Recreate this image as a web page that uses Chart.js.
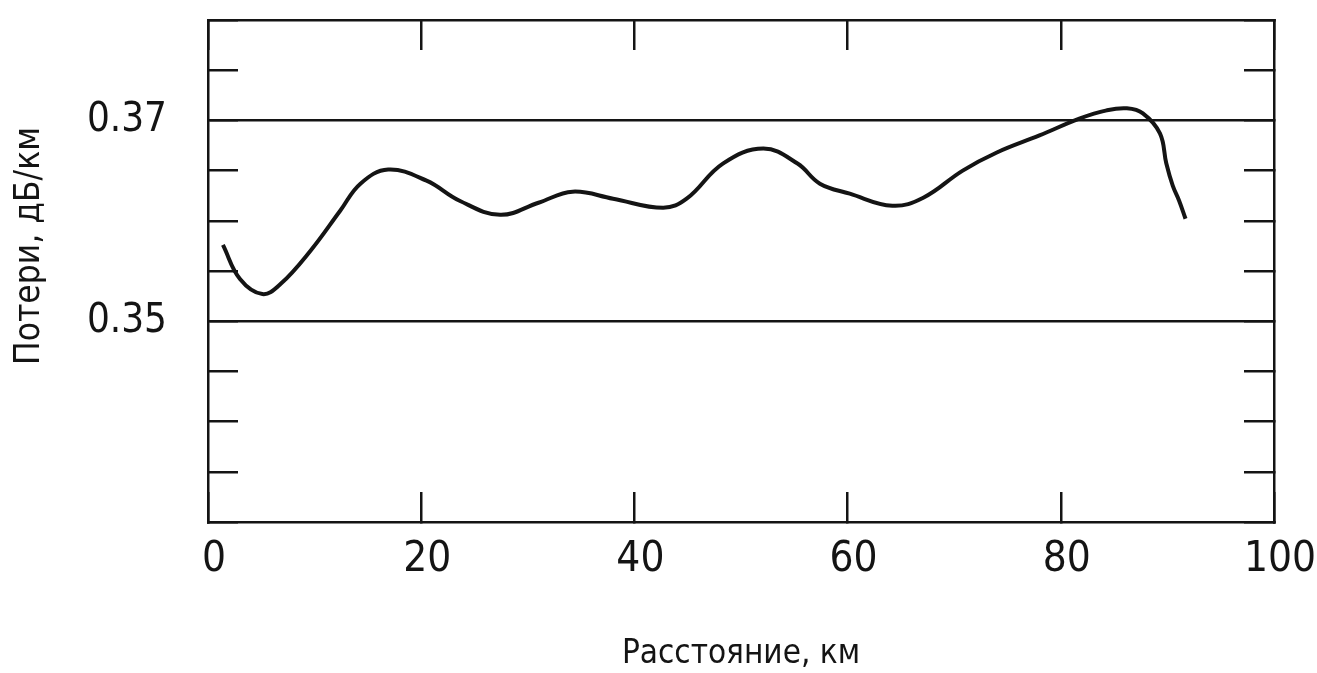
<!DOCTYPE html>
<html>
  <head>
    <title>Потери по длине линии</title>
    <script src="https://cdn.jsdelivr.net/npm/chart.js"></script>
    <style>
      body {
        margin: 0;
        background: #fff;
      }
      #chart {
        display: block;
      }
    </style>
  </head>
  <body>
    <canvas id="chart" width="1317" height="673"></canvas>

    <script>
      // values
      const distanceKm = [
        1.4, 3.0, 5.1, 6.8, 9.6, 12.4, 14.3, 16.9, 20.5, 23.6, 27.4, 31,
        34.2, 38, 42.7, 44.9, 48.3, 52.1, 55.3, 57.4, 60.2, 64.2, 67.1,
        70.8, 74, 78, 81.8, 84.3, 86.2, 87.7, 89.3, 89.9, 90.5, 91.1, 91.7,
      ];
      const lossDbKm = [
        0.3576, 0.3542, 0.3527, 0.3537, 0.357, 0.361, 0.3637, 0.3651, 0.364,
        0.362, 0.3606, 0.3618, 0.3629, 0.3622, 0.3613, 0.3622, 0.3657,
        0.3672, 0.3657, 0.3637, 0.3627, 0.3615, 0.3623, 0.365, 0.3668, 0.3685,
        0.3702, 0.371, 0.3712, 0.3707, 0.3687, 0.3657, 0.3635, 0.362, 0.3602,
      ];
      const yLabelled = [0.35, 0.37];

      const FONT = "'Liberation Sans Narrow', 'Arial Narrow', 'DejaVu Sans Condensed', 'Liberation Sans', sans-serif";
      const INK = "#141414";

      const isLabelled = (v) =>
        yLabelled.some((l) => Math.round(l * 1000) === Math.round(v * 1000));

      function fixWidth(w) {
        return (scale) => {
          scale.width = w;
          scale.paddingTop = 0;
          scale.paddingBottom = 0;
        };
      }
      function fixHeight(h) {
        return (scale) => {
          scale.height = h;
          scale.paddingLeft = 0;
          scale.paddingRight = 0;
        };
      }

      const ctx = document.getElementById("chart").getContext("2d");
      new Chart(ctx, {
        type: "scatter",
        data: {
          datasets: [
            {
              data: distanceKm.map((x, i) => ({ x: x, y: lossDbKm[i] })),
              showLine: true,
              borderColor: INK,
              borderWidth: 4,
              pointRadius: 0,
              tension: 0.4,
            },
          ],
        },
        options: {
          responsive: false,
          animation: false,
          layout: { padding: 0 },
          plugins: {
            legend: { display: false },
            tooltip: { enabled: false },
          },
          scales: {
            x: {
              type: "linear",
              position: "bottom",
              min: 0,
              max: 100,
              afterFit: fixHeight(151),
              border: { display: true, color: INK, width: 2.5 },
              grid: {
                color: "rgba(0,0,0,0)",
                tickColor: INK,
                tickLength: -30,
                lineWidth: 2.5,
              },
              ticks: {
                stepSize: 20,
                autoSkip: false,
                maxRotation: 0,
                padding: 47,
                labelOffset: 6,
                color: INK,
                font: { family: FONT, size: 42, lineHeight: 1 },
              },
              title: {
                display: true,
                text: "Расстояние, км",
                color: INK,
                padding: { top: 0, bottom: 2 },
                font: { family: FONT, size: 33, lineHeight: 1 },
              },
            },
            x2: {
              type: "linear",
              position: "top",
              min: 0,
              max: 100,
              afterFit: fixHeight(20),
              border: { display: true, color: INK, width: 2.5 },
              grid: {
                drawOnChartArea: false,
                tickColor: INK,
                tickLength: -30,
                lineWidth: 2.5,
              },
              ticks: { stepSize: 20, display: false },
            },
            y: {
              type: "linear",
              position: "left",
              min: 0.33,
              max: 0.38,
              afterFit: fixWidth(208),
              border: { display: true, color: INK, width: 2.5 },
              grid: {
                color: (c) =>
                  c.tick && isLabelled(c.tick.value) ? INK : "rgba(0,0,0,0)",
                tickColor: INK,
                tickLength: -30,
                lineWidth: 2.5,
              },
              ticks: {
                stepSize: 0.005,
                autoSkip: false,
                padding: 71,
                color: INK,
                font: { family: FONT, size: 40, lineHeight: 1 },
                callback: (v) => (isLabelled(v) ? Number(v).toFixed(2) : ""),
              },
              title: {
                display: true,
                // leading spaces lift the rotated title a little, as in the original
                text: "\u00a0\u00a0\u00a0\u00a0\u00a0Потери, дБ/км",
                color: INK,
                padding: { top: 12, bottom: 0 },
                font: { family: FONT, size: 35, lineHeight: 1 },
              },
            },
            y2: {
              type: "linear",
              position: "right",
              min: 0.33,
              max: 0.38,
              afterFit: fixWidth(43),
              border: { display: true, color: INK, width: 2.5 },
              grid: {
                drawOnChartArea: false,
                tickColor: INK,
                tickLength: -30,
                lineWidth: 2.5,
              },
              ticks: { stepSize: 0.005, display: false },
            },
          },
        },
      });
    </script>
  </body>
</html>
